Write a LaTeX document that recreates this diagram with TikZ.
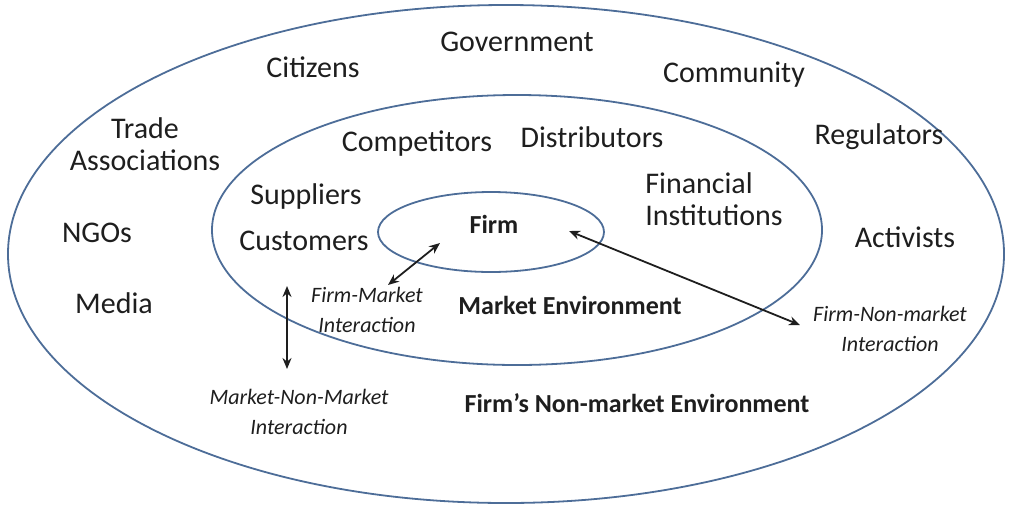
\documentclass[tikz,border=0pt]{standalone}
\usepackage{fontspec}
\setmainfont{Carlito}
\usepackage{tikz}
\usetikzlibrary{arrows.meta}
\definecolor{ringblue}{HTML}{4D6D98}
\definecolor{inkgray}{HTML}{1E1E1E}

\begin{document}
\begin{tikzpicture}[x=0.5pt, y=-0.5pt,
            ring/.style={draw=ringblue, line width=0.9pt},
            lbl/.style={text=inkgray, font=\fontsize{15}{17}\selectfont, inner sep=0pt},
            env/.style={text=inkgray, font=\fontsize{13}{15}\selectfont\bfseries, inner sep=0pt},
            inter/.style={text=inkgray, font=\fontsize{11}{15}\selectfont\itshape, align=center, inner sep=0pt},
            link/.style={{Stealth[length=5.5pt,width=4.5pt]}-{Stealth[length=5.5pt,width=4.5pt]}, line width=0.9pt, inkgray}
        ]
            \useasboundingbox (0,0) rectangle (1010,509);

            % the three environments
            \draw[ring] (506,254) ellipse [x radius=498, y radius=249];
            \draw[ring] (517,230) ellipse [x radius=305, y radius=135];
            \draw[ring] (491,232) ellipse [x radius=113, y radius=40];

            % non-market actors
            \node[lbl](gov) at (517,42){Government};
            \node[lbl](cit) at (313,67){Citizens};
            \node[lbl](com) at (734,75){Community};
            \node[lbl, align=center](trade) at (145,144){Trade\\[-1pt]Associations};
            \node[lbl](reg) at (879,137){Regulators};
            \node[lbl](ngo) at (97,233){NGOs};
            \node[lbl](act) at (905,237){Activists};
            \node[lbl](media) at (114,303){Media};

            % market actors
            \node[lbl](comp) at (417,144){Competitors};
            \node[lbl](dist) at (592,137){Distributors};
            \node[lbl, align=left, anchor=west](fin) at (645,199){Financial\\[-1pt]Institutions};
            \node[lbl](supp) at (306,196){Suppliers};
            \node[lbl](cust) at (304,241){Customers};

            \node[env](firm) at (494,224){Firm};
            \node[env](mkt) at (570,305){Market Environment};
            \node[env](nonmkt) at (637,403){Firm's Non-market Environment};

            % interactions
            \node[inter](fm) at (367,310){Firm-Market\\Interaction};
            \node[inter](fnm) at (890,329){Firm-Non-market\\Interaction};
            \node[inter](mnm) at (299,412){Market-Non-Market\\Interaction};

            \coordinate (fmtail) at (388,285);
            \coordinate (fmhead) at (440,243);
            \coordinate (fnmtail) at (800,325);
            \coordinate (fnmhead) at (569,231);
            \coordinate (mnmtop) at (287,286);
            \coordinate (mnmbot) at (287,369);

            \draw[link] (fmtail) -- (fmhead);
            \draw[link] (fnmtail) -- (fnmhead);
            \draw[link] (mnmtop) -- (mnmbot);
        \end{tikzpicture}
\end{document}
